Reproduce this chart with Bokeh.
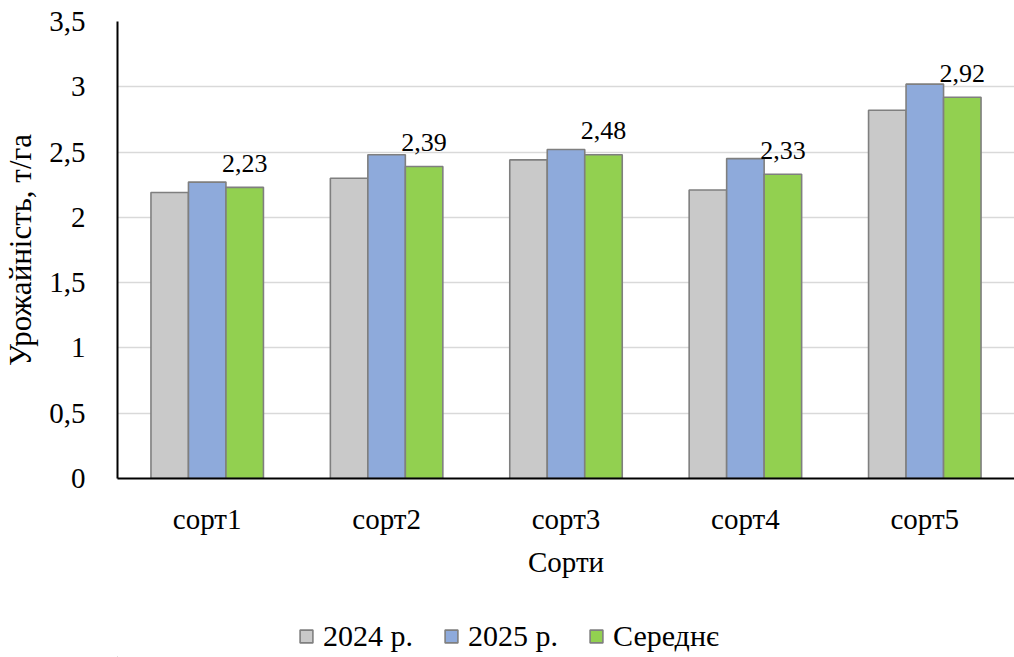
from bokeh.plotting import figure
from bokeh.layouts import column
from bokeh.models import (ColumnDataSource, FactorRange, Range1d, FixedTicker,
                          CustomJSTickFormatter, Legend, LegendItem)
from bokeh.transform import dodge
from bokeh.core.properties import value
from bokeh.embed import file_html
from bokeh.resources import INLINE

# Yield by variety, t/ha
varieties = ["сорт1", "сорт2", "сорт3", "сорт4", "сорт5"]
yield_2024 = [2.19, 2.30, 2.44, 2.21, 2.82]
yield_2025 = [2.27, 2.48, 2.52, 2.45, 3.02]
yield_mean = [2.23, 2.39, 2.48, 2.33, 2.92]
y_ticks = [0, 0.5, 1, 1.5, 2, 2.5, 3, 3.5]
series_names = ["2024 р.", "2025 р.", "Середнє"]

FONT = "Liberation Serif"
BAR_W = 0.209
colors = ["#c9c9c9", "#8eaadb", "#92d050"]
EDGE = "#7f7f7f"

source = ColumnDataSource(dict(
    cat=varieties,
    y2024=yield_2024,
    y2025=yield_2025,
    ymean=yield_mean,
    mean_lbl=[f"{v:.2f}".replace(".", ",") for v in yield_mean],
))

p = figure(width=1014, height=600, x_range=FactorRange(*varieties),
           y_range=Range1d(0, 3.5), output_backend="svg",
           toolbar_location=None)
p.min_border_left = 116
p.min_border_right = 0
p.min_border_top = 21
p.min_border_bottom = 122
p.outline_line_color = None
p.background_fill_color = "white"
p.border_fill_color = "white"

fields = ["y2024", "y2025", "ymean"]
offsets = [-BAR_W, 0, BAR_W]
for fld, off, col in zip(fields, offsets, colors):
    p.vbar(x=dodge("cat", off, range=p.x_range), top=fld, width=BAR_W,
           source=source, fill_color=col, line_color=EDGE, line_width=1.6)

# value labels above the mean bars
p.text(x=dodge("cat", BAR_W, range=p.x_range), y="ymean", text="mean_lbl",
       source=source, text_font=value(FONT), text_font_size="26px",
       text_align="center", text_baseline="alphabetic", y_offset=-24,
       text_color="black")

# grid
p.xgrid.grid_line_color = None
p.ygrid.grid_line_color = "#d9d9d9"
p.ygrid.grid_line_width = 1.5

# y axis
p.yaxis.ticker = FixedTicker(ticks=y_ticks)
p.yaxis.formatter = CustomJSTickFormatter(
    code="return tick.toString().replace('.', ',');")
p.yaxis.axis_line_color = "black"
p.yaxis.axis_line_width = 2
p.yaxis.major_tick_line_color = None
p.yaxis.minor_tick_line_color = None
p.yaxis.major_label_text_font = FONT
p.yaxis.major_label_text_font_size = "29px"
p.yaxis.major_label_text_color = "black"
p.yaxis.major_label_standoff = 26
p.yaxis.axis_label = "Урожайність, т/га"
p.yaxis.axis_label_text_font = FONT
p.yaxis.axis_label_text_font_size = "31px"
p.yaxis.axis_label_text_font_style = "normal"
p.yaxis.axis_label_text_color = "black"
p.yaxis.axis_label_standoff = 8

# x axis
p.xaxis.axis_line_color = "black"
p.xaxis.axis_line_width = 2
p.xaxis.major_tick_line_color = None
p.xaxis.minor_tick_line_color = None
p.xaxis.major_label_text_font = FONT
p.xaxis.major_label_text_font_size = "29px"
p.xaxis.major_label_text_color = "black"
p.xaxis.major_label_standoff = 18
p.xaxis.axis_label = "Сорти"
p.xaxis.axis_label_text_font = FONT
p.xaxis.axis_label_text_font_size = "29px"
p.xaxis.axis_label_text_font_style = "normal"
p.xaxis.axis_label_text_color = "black"
p.xaxis.axis_label_standoff = 8

# legend strip underneath the chart; its swatch renderers sit outside the
# visible range so only the legend entries show
leg_fig = figure(width=1014, height=57, x_range=Range1d(0, 1),
                 y_range=Range1d(0, 1), output_backend="svg",
                 toolbar_location=None, x_axis_location=None,
                 y_axis_location=None, min_border=0)
leg_fig.outline_line_color = None
leg_fig.xgrid.grid_line_color = None
leg_fig.ygrid.grid_line_color = None
leg_src = ColumnDataSource(dict(x=[-10.0], top=[-10.0]))
leg_renderers = [leg_fig.vbar(x="x", top="top", bottom=-11.0, width=0.1,
                              source=leg_src, fill_color=c, line_color=EDGE,
                              line_width=1.6)
                 for c in colors]

legend = Legend(
    items=[LegendItem(label=n, renderers=[r])
           for n, r in zip(series_names, leg_renderers)],
    orientation="horizontal", location=(181, 4),
    label_text_font=FONT, label_text_font_size="30px", label_text_color="black",
    glyph_width=16, glyph_height=16, label_standoff=9, spacing=30,
    padding=0, margin=0, border_line_color=None, background_fill_alpha=0,
)
leg_fig.add_layout(legend, "center")

layout = column(p, leg_fig, spacing=0)
open("out.html", "w").write(file_html(layout, INLINE))
